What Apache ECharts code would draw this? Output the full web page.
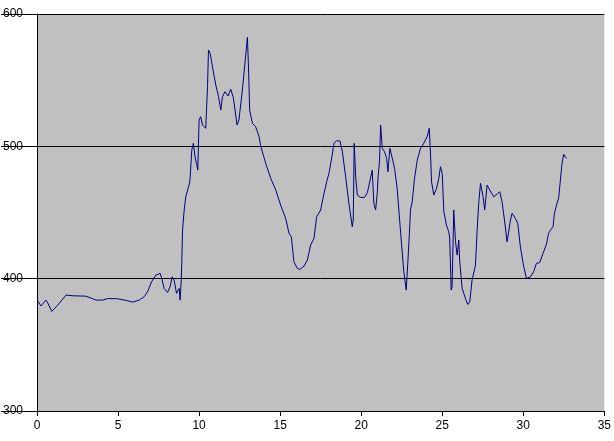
<!DOCTYPE html>
<html>
<head>
<meta charset="utf-8">
<script src="https://cdn.jsdelivr.net/npm/echarts@6/dist/echarts.min.js"></script>
<style>
  html, body { margin: 0; padding: 0; background: #ffffff; }
  #main { width: 614px; height: 441px; }
</style>
</head>
<body>
<div id="main"></div>
<script>
// x positions and values
const xs = [
  0.04, 0.25, 0.55, 0.66, 0.91, 1.28, 1.79, 2.30, 3.02, 3.64, 4.05, 4.36, 4.97, 5.59, 5.90,
  6.30, 6.61, 6.82, 7.07, 7.33, 7.60, 7.70, 7.84, 8.05, 8.21, 8.34, 8.46, 8.61, 8.71, 8.77,
  8.83, 8.90, 8.93, 8.98, 9.08, 9.18, 9.35, 9.43, 9.55, 9.65, 9.75, 9.84, 9.92, 10.00, 10.10,
  10.21, 10.41, 10.52, 10.58, 10.68, 10.86, 11.03, 11.20, 11.34, 11.44, 11.60, 11.79, 11.95,
  12.10, 12.22, 12.34, 12.46, 12.67, 12.83, 12.98, 13.04, 13.12, 13.29, 13.49, 13.70, 13.80,
  14.11, 14.42, 14.73, 15.03, 15.34, 15.55, 15.69, 15.85, 16.06, 16.22, 16.47, 16.68, 16.88,
  17.09, 17.25, 17.50, 17.66, 17.87, 18.01, 18.16, 18.32, 18.48, 18.69, 18.84, 19.04, 19.24,
  19.45, 19.51, 19.57, 19.66, 19.76, 19.96, 20.21, 20.38, 20.47, 20.58, 20.68, 20.78, 20.89,
  20.99, 21.05, 21.13, 21.20, 21.30, 21.44, 21.57, 21.65, 21.77, 21.92, 22.06, 22.22, 22.38,
  22.53, 22.63, 22.72, 22.78, 22.88, 23.00, 23.04, 23.15, 23.29, 23.46, 23.66, 23.86, 24.07,
  24.20, 24.28, 24.34, 24.48, 24.65, 24.79, 24.89, 25.00, 25.10, 25.26, 25.40, 25.46, 25.55,
  25.61, 25.71, 25.82, 25.92, 26.02, 26.08, 26.23, 26.43, 26.57, 26.70, 26.84, 27.05, 27.15,
  27.25, 27.36, 27.46, 27.52, 27.62, 27.77, 27.93, 28.18, 28.39, 28.55, 28.69, 28.84, 29.00,
  29.10, 29.21, 29.31, 29.51, 29.66, 29.82, 29.99, 30.19, 30.44, 30.64, 30.81, 31.01, 31.22,
  31.42, 31.56, 31.71, 31.84, 31.92, 32.08, 32.18, 32.29, 32.39, 32.49, 32.58, 32.66
];
const ys = [
  383.3, 379.3, 383.8, 381.8, 375.3, 380.0, 387.6, 387.0, 386.8, 383.8, 383.8, 385.0, 384.8, 383.3, 382.3,
  383.8, 386.3, 390.1, 397.7, 402.7, 404.0, 400.2, 392.6, 389.6, 393.9, 401.4, 398.9, 388.9, 387.6, 392.6,
  383.8, 399.0, 411.6, 436.7, 451.8, 461.9, 469.5, 473.2, 497.2, 502.3, 492.1, 487.1, 482.1, 519.9, 522.4,
  516.1, 513.6, 545.1, 572.8, 570.3, 557.7, 546.3, 537.5, 527.4, 537.5, 541.3, 538.0, 543.1,
  537.5, 527.4, 516.1, 519.9, 542.6, 562.7, 582.4, 562.7, 527.4, 517.4, 514.8, 507.3, 500.2,
  487.1, 475.8, 467.0, 455.6, 445.6, 434.2, 431.7, 412.8, 407.8, 407.0, 409.5, 414.0, 425.4,
  430.5, 446.8, 451.9, 461.9, 473.2, 479.6, 489.6, 502.3, 504.2, 504.0, 495.9, 477.0, 456.9,
  439.2, 444.3, 502.3, 477.0, 463.2, 461.4, 461.4, 465.0, 470.0, 470.7, 482.0, 456.9, 451.9,
  464.5, 478.3, 488.3, 516.1, 498.5, 495.9, 490.9, 480.8, 498.5, 490.9, 483.3, 468.2, 443.0,
  420.3, 405.2, 406.5, 391.4, 412.8, 440.5, 451.9, 458.1, 475.8, 489.6, 498.5, 502.3, 507.3,
  513.6, 493.4, 473.2, 463.2, 468.2, 475.8, 484.6, 479.6, 450.6, 440.5, 435.5, 430.5, 391.4,
  393.9, 451.9, 427.9, 417.8, 429.2, 412.8, 392.6, 385.1, 380.5, 382.5, 399.0, 410.0, 436.0,
  456.9, 472.0, 473.2, 461.9, 451.9, 470.7, 467.0, 461.9, 464.0, 465.7, 458.1, 444.3, 427.9,
  429.2, 444.3, 449.4, 445.6, 441.8, 424.1, 411.6, 400.2, 401.4, 405.2, 411.6, 412.1, 419.2,
  425.5, 434.2, 437.3, 439.2, 449.4, 456.9, 460.7, 474.5, 487.1, 493.9, 492.7, 490.9
];
const xTicks = [0, 5, 10, 15, 20, 25, 30, 35];
const yTicks = [300, 400, 500, 600];

const seriesData = xs.map((x, i) => [x, ys[i]]);

const chart = echarts.init(document.getElementById('main'));
const labelFont = { fontFamily: 'Liberation Sans', fontSize: 12, color: '#000000' };

chart.setOption({
  animation: false,
  backgroundColor: '#ffffff',
  grid: {
    left: 36, right: 9, top: 14, bottom: 30,
    show: true,
    backgroundColor: '#c0c0c0',
    borderWidth: 0
  },
  xAxis: {
    type: 'value',
    min: xTicks[0],
    max: xTicks[xTicks.length - 1],
    interval: 5,
    axisLine: { onZero: false, lineStyle: { color: '#000000', width: 1 } },
    axisTick: { show: true, length: 5, lineStyle: { color: '#000000' } },
    axisLabel: Object.assign({ margin: 9 }, labelFont),
    splitLine: { show: false }
  },
  yAxis: {
    type: 'value',
    min: yTicks[0],
    max: yTicks[yTicks.length - 1],
    interval: 100,
    axisLine: { show: true, lineStyle: { color: '#000000', width: 1 } },
    // old-style ticks run all the way out under the labels
    axisTick: { show: true, length: 36, lineStyle: { color: '#000000' } },
    axisLabel: Object.assign({ margin: 34, align: 'left' }, labelFont),
    splitLine: { show: true, lineStyle: { color: '#000000', width: 1 } }
  },
  series: [{
    type: 'line',
    data: seriesData,
    showSymbol: false,
    smooth: false,
    lineStyle: { color: '#000080', width: 1 },
    itemStyle: { color: '#000080' }
  }]
});
</script>
</body>
</html>
